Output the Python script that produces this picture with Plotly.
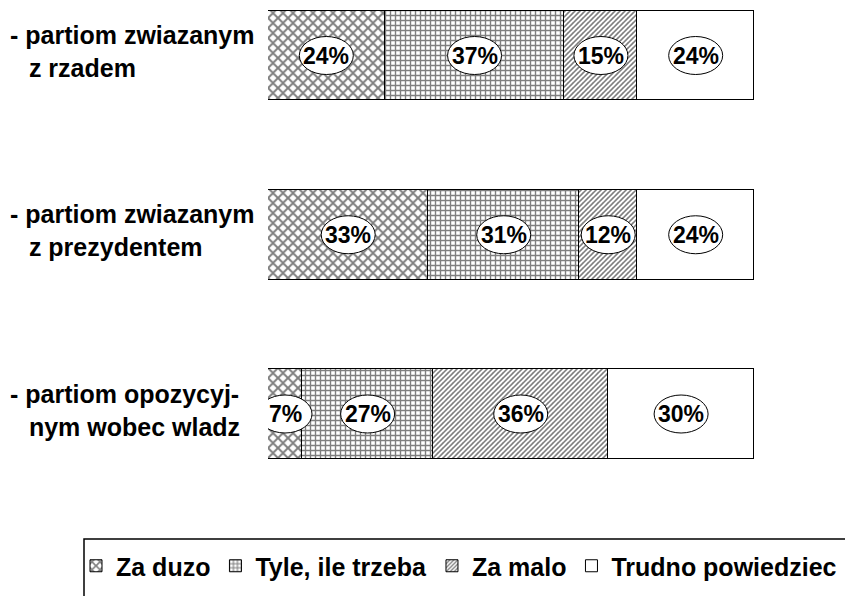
import plotly.graph_objects as go
import numpy as np

categories = ["rzad", "prezydent", "opozycja"]
cat_lines = [
    ["- partiom zwiazanym", "  \u2009z rzadem"],
    ["- partiom zwiazanym", "  \u2009z prezydentem"],
    ["- partiom opozycyj-", "  \u2009nym wobec wladz"],
]
series_names = ["Za duzo", "Tyle, ile trzeba", "Za malo", "Trudno powiedziec"]
za_duzo = [24, 33, 7]
tyle_ile_trzeba = [37, 31, 27]
za_malo = [15, 12, 36]
trudno_powiedziec = [24, 24, 30]

series_values = [za_duzo, tyle_ile_trzeba, za_malo, trudno_powiedziec]
patterns = [
    dict(shape="x", size=7.0711, solidity=0.5, fgcolor="black"),
    dict(shape="+", size=5, solidity=0.48, fgcolor="black"),
    dict(shape="/", size=3.5355, solidity=0.45, fgcolor="black"),
    dict(shape=""),
]

OFF = 8  # page body offset
W, H = 853, 596
ML = 268 - OFF
MR = 0
MT = 0
MB = H - (500 - OFF)
PW = W - ML - MR
PH = H - MT - MB
bar_full_px = 486  # 100% width in pixels
row_px = 179.25
first_center = 55.5 - OFF


def px_x(xr):
    return (xr - OFF - ML) / PW


def px_y(yr):
    return 1 - (yr - OFF - MT) / PH


ypos = list(range(len(categories)))
BLACK = "black"
FONT = "Liberation Sans"

fig = go.Figure()
for name, vals, pat in zip(series_names, series_values, patterns):
    fig.add_trace(go.Bar(
        y=ypos, x=vals, name=name, orientation="h", width=0.5,
        marker=dict(color="white", line=dict(color=BLACK, width=1), pattern=pat),
        hoverinfo="skip",
    ))

shapes = []
annotations = []
cum = np.cumsum(np.array(series_values), axis=0)
for j in range(len(series_values)):
    for i in range(len(categories)):
        v = series_values[j][i]
        center = cum[j][i] - v / 2
        shapes.append(dict(
            type="circle", xref="x", yref="y", xsizemode="pixel", ysizemode="pixel",
            xanchor=center, yanchor=i, x0=-27, x1=27, y0=-19, y1=19,
            fillcolor="white", line=dict(color=BLACK, width=1), layer="above",
        ))
        annotations.append(dict(
            x=center, y=i, xref="x", yref="y", text=f"{v}%", showarrow=False,
            font=dict(family=FONT, size=23, color=BLACK, weight="bold"),
            xanchor="center", yanchor="middle",
        ))

for i, lines in enumerate(cat_lines):
    annotations.append(dict(
        x=px_x(8), y=i, xref="paper", yref="y", text="<br>".join(lines),
        showarrow=False, align="left", xanchor="left", yanchor="middle", yshift=4,
        font=dict(family=FONT, size=25, color=BLACK, weight="bold"),
    ))

# legend frame
shapes.append(dict(
    type="rect", xref="paper", yref="paper",
    x0=px_x(84), x1=1.2, y0=px_y(539), y1=-0.4,
    line=dict(color=BLACK, width=1.5), fillcolor="rgba(0,0,0,0)", layer="above",
))

fig.update_layout(
    width=W, height=H,
    margin=dict(l=ML, r=MR, t=MT, b=MB, autoexpand=False),
    barmode="stack", bargap=0,
    plot_bgcolor="white", paper_bgcolor="white",
    showlegend=True,
    legend=dict(
        orientation="h", x=px_x(76), y=px_y(543),
        xanchor="left", yanchor="top",
        font=dict(family=FONT, size=25, color=BLACK, weight="bold"),
        bgcolor="rgba(0,0,0,0)", borderwidth=0, traceorder="normal",
        itemclick=False, itemdoubleclick=False,
    ),
    xaxis=dict(range=[0, 100 * PW / bar_full_px], visible=False, fixedrange=True),
    yaxis=dict(range=[(PH - first_center) / row_px, -first_center / row_px],
               visible=False, fixedrange=True),
    shapes=shapes, annotations=annotations,
)

fig.write_html("out.html")
